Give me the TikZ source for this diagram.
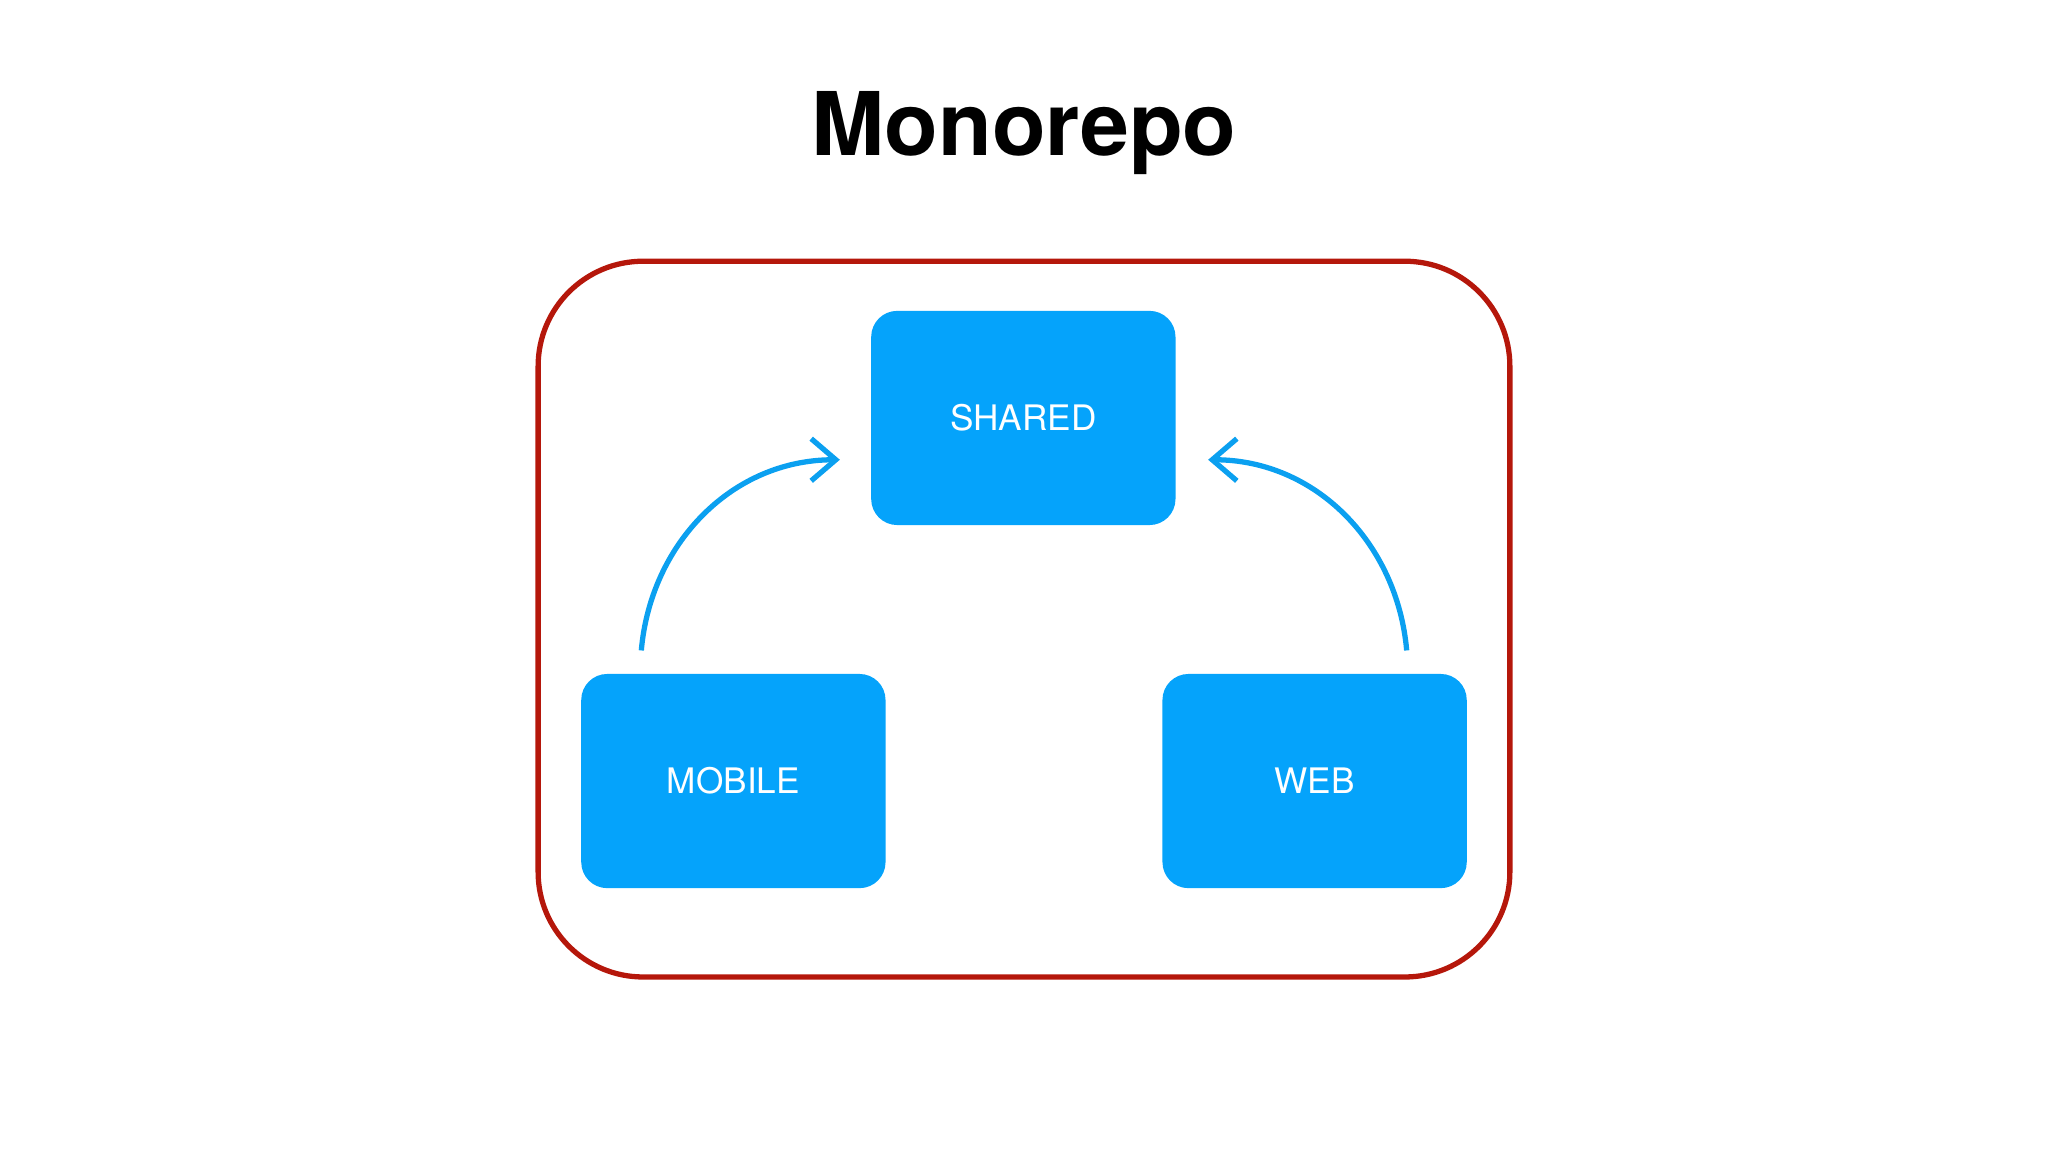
\documentclass[tikz,border=0pt]{standalone}
\usepackage{fontspec}
\setmainfont{TeX Gyre Heros}
\usepackage{xcolor}
\usetikzlibrary{arrows.meta}
\definecolor{repored}{HTML}{B5170B}
\definecolor{pkgblue}{HTML}{05A3FB}
\definecolor{linkblue}{HTML}{0BA0F0}
\tikzset{pkgbox/.style={fill=pkgblue,rounded corners=0.26cm,minimum width=3.043cm,minimum height=2.142cm,text=white,font=\fontsize{10}{12}\selectfont,inner sep=0}}
\tikzset{link/.style={->,>={Straight Barb[length=7pt,width=12pt,line width=1.5pt]},line width=1.5pt,linkblue}}

\begin{document}
\begin{tikzpicture}[x=0.01306cm,y=-0.01306cm]
            % page size
            \useasboundingbox (0,0) rectangle (1568,882);
            % title
            \node (title) at (784,102) {\fontsize{25}{30}\selectfont\bfseries Monorepo};
            % draw the repo frame
            \draw[repored,line width=1.5pt,rounded corners=1.05cm] (412,200) rectangle (1156,748);
            % draw the packages
            \node[pkgbox] (shared) at (783.5,320) {SHARED};
            \node[pkgbox] (mobile) at (561.5,598) {MOBILE};
            \node[pkgbox] (web) at (1006.5,598) {WEB};
            % draw the dependencies
            \coordinate (mobileout) at (491,498);
            \coordinate (webout) at (1077,498);
            \coordinate (sharedinl) at (643,352);
            \coordinate (sharedinr) at (925,352);
            \draw[link] (mobileout) to[out=85,in=180] (sharedinl);
            \draw[link] (webout) to[out=95,in=0] (sharedinr);
        \end{tikzpicture}
\end{document}
